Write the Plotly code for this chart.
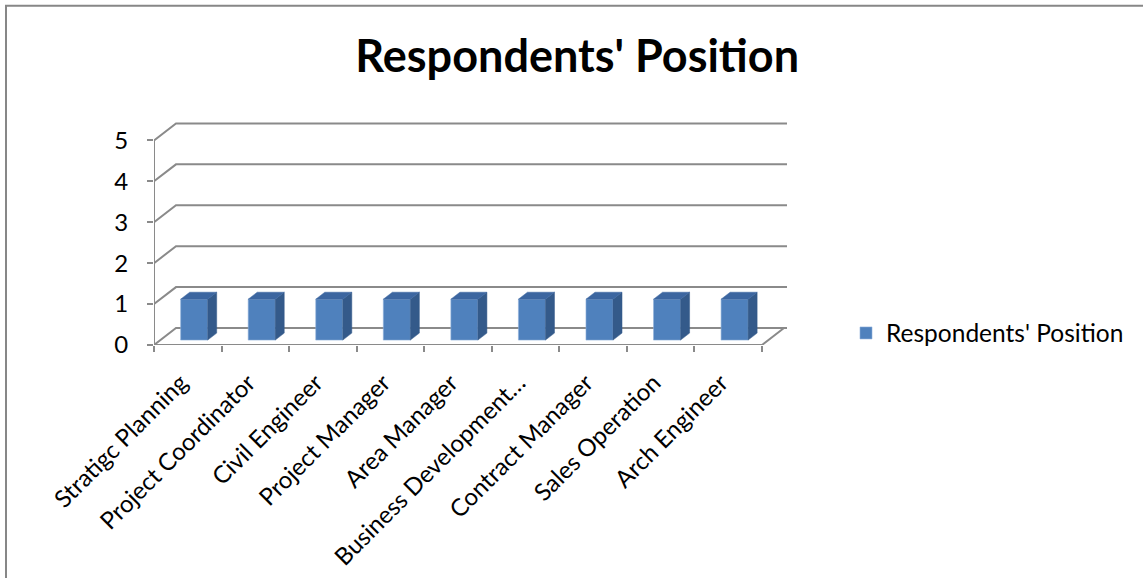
import plotly.graph_objects as go

# ---------------- data ----------------
categories = ["Stratigc Planning", "Project Coordinator", "Civil Engineer", "Project Manager",
              "Area Manager", "Business Development…", "Contract Manager", "Sales Operation",
              "Arch Engineer"]
values = [1, 1, 1, 1, 1, 1, 1, 1, 1]
y_ticks = [0, 1, 2, 3, 4, 5]
series_name = "Respondents' Position"
title_text = "Respondents' Position"

# ---------------- layout constants (pixels) ----------------
W, H = 1143, 578
PL, PR = 154, 787          # plot area left/right
PB = 345                   # y of value 0 on front axis
PX_PER_Y = 41.0
PX_PER_X = (762 - 154) / 9.0
DEPTH_PX_X, DEPTH_PX_Y = 22, 17
DX = DEPTH_PX_X / PX_PER_X
DY = DEPTH_PX_Y / PX_PER_Y
Y_TOP = 5.45
X_MIN = -0.5
X_MAX = X_MIN + (PR - PL) / PX_PER_X
PT = PB - Y_TOP * PX_PER_Y

n = len(categories)
centers = list(range(n))
GRID = "#8a8a8a"
FRONT = "#4F81BD"
SIDE = "#345a8a"
TOP = "#3c66a0"
FONT = "Lato"

fig = go.Figure()

# back wall gridlines with oblique side-wall part (below traces)
for k in y_ticks:
    fig.add_shape(type="path", xref="x", yref="y", layer="below",
                  path=f"M{X_MIN},{k} L{X_MIN + DX},{k + DY} L{X_MAX},{k + DY}",
                  line=dict(color=GRID, width=2))

# bars (front faces) + side/top faces
d0, d1 = 0.29, 0.70
bw = 0.4
fig.add_trace(go.Bar(x=[c + d0 * DX for c in centers], y=values, base=[d0 * DY] * n,
                     width=bw, marker=dict(color=FRONT, line=dict(color="#8fb0da", width=0.6)),
                     name=series_name, showlegend=True, hoverinfo="skip"))
sx, sy, tx, ty = [], [], [], []
ddx, ddy = (d1 - d0) * DX, (d1 - d0) * DY
for c, v in zip(centers, values):
    x0 = c - bw / 2 + d0 * DX
    x1 = c + bw / 2 + d0 * DX
    y0 = d0 * DY
    y1 = v + d0 * DY
    sx += [x1, x1, x1 + ddx, x1 + ddx, x1, None]
    sy += [y0, y1, y1 + ddy, y0 + ddy, y0, None]
    tx += [x0, x1, x1 + ddx, x0 + ddx, x0, None]
    ty += [y1, y1, y1 + ddy, y1 + ddy, y1, None]
fig.add_trace(go.Scatter(x=sx, y=sy, mode="lines", fill="toself", fillcolor=SIDE,
                         line=dict(color=SIDE, width=0.5), hoverinfo="skip", showlegend=False))
fig.add_trace(go.Scatter(x=tx, y=ty, mode="lines", fill="toself", fillcolor=TOP,
                         line=dict(color=TOP, width=0.5), hoverinfo="skip", showlegend=False))

# front axes and floor right edge
fx = [X_MIN, X_MIN, None, X_MIN, n - 0.5, n - 0.5 + DX]
fy = [y_ticks[-1], 0, None, 0, 0, DY]
fig.add_trace(go.Scatter(x=fx, y=fy, mode="lines", line=dict(color=GRID, width=2),
                         hoverinfo="skip", showlegend=False, cliponaxis=False))

# frame
def px_to_paper_x(px):
    return (px - PL) / (PR - PL)

def py_to_paper_y(py):
    return (PB - py) / (PB - PT)

fig.add_shape(type="rect", xref="paper", yref="paper",
              x0=px_to_paper_x(6), x1=px_to_paper_x(W + 20),
              y0=py_to_paper_y(H + 20), y1=py_to_paper_y(5),
              line=dict(color="#878787", width=2), fillcolor="rgba(0,0,0,0)")

fig.update_layout(
    width=W, height=H,
    margin=dict(l=PL, r=W - PR, t=PT, b=H - PB, pad=0, autoexpand=False),
    paper_bgcolor="white", plot_bgcolor="white",
    font=dict(family=FONT, color="black", size=24),
    title=dict(text=title_text, x=0.505, xref="container", xanchor="center",
               y=1 - 56 / H, yref="container", yanchor="middle",
               font=dict(family=FONT, size=45, color="black", weight="bold")),
    barmode="overlay",
    showlegend=True,
    legend=dict(x=846 / W, xref="container", xanchor="left",
                y=1 - 333 / H, yref="container", yanchor="middle",
                font=dict(family=FONT, size=24.5, color="black"), bgcolor="rgba(0,0,0,0)"),
    xaxis=dict(range=[X_MIN, X_MAX], tickmode="array",
               tickvals=[i - 0.5 for i in range(n + 1)], ticktext=[""] * (n + 1),
               ticks="outside", ticklen=6, tickwidth=2, tickcolor=GRID,
               showgrid=False, zeroline=False, showline=False, fixedrange=True),
    xaxis2=dict(overlaying="x", matches="x", side="bottom", anchor="y",
                range=[X_MIN, X_MAX], tickmode="array", tickvals=centers, ticktext=categories,
                tickangle=-45, ticks="", showgrid=False, zeroline=False, showline=False,
                tickfont=dict(family=FONT, size=24, color="black"),
                ticklabelstandoff=18, ticklabelshift=-7),
    yaxis=dict(range=[0, Y_TOP], tickmode="array", tickvals=y_ticks,
               ticks="outside", ticklen=6, tickwidth=2, tickcolor=GRID,
               showgrid=False, zeroline=False, showline=False, ticklabelstandoff=14,
               tickfont=dict(family=FONT, size=24, color="black")),
)
# invisible trace to activate xaxis2
fig.add_trace(go.Scatter(x=[centers[0]], y=[0], xaxis="x2", mode="markers",
                         marker=dict(opacity=0), hoverinfo="skip", showlegend=False))

fig.write_html("out.html", config={"displayModeBar": False},
               post_script="document.body.style.margin='0';document.body.style.overflow='hidden';")
